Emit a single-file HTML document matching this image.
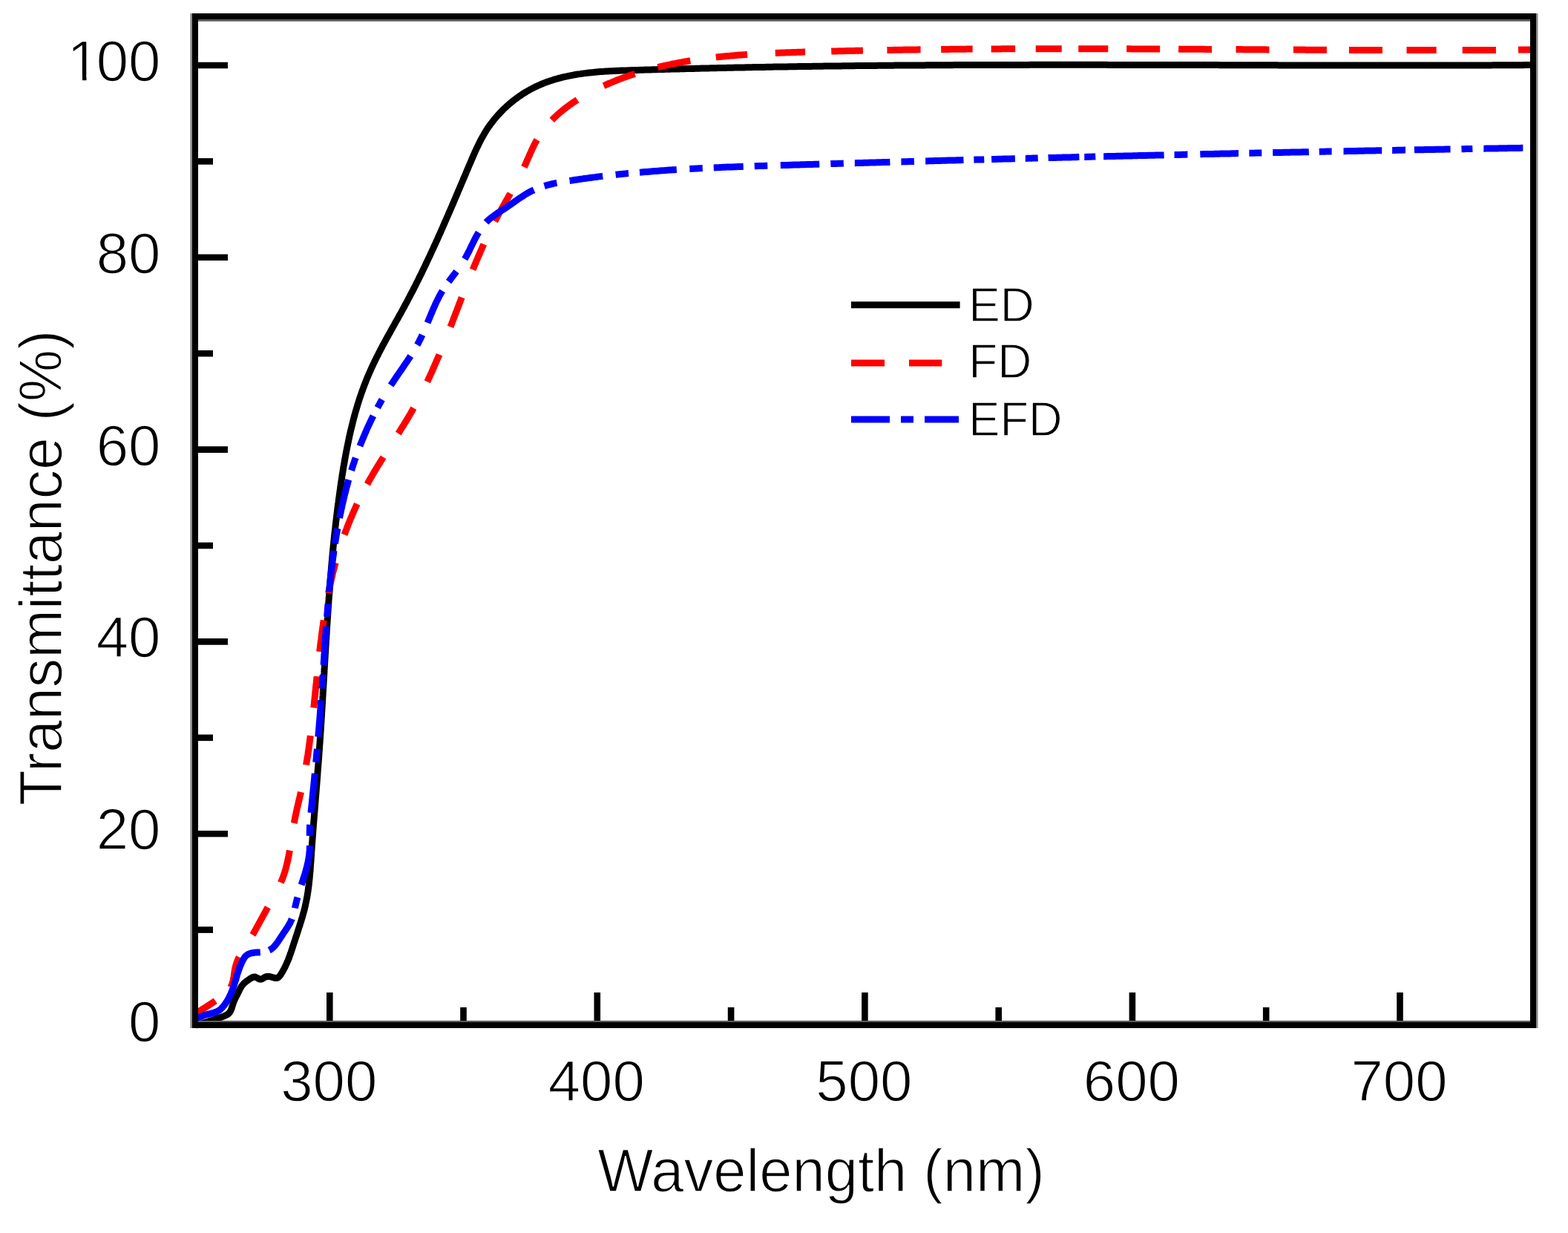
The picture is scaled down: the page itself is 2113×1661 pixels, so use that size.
<!DOCTYPE html>
<html><head><meta charset="utf-8"><title>Transmittance</title>
<style>html,body{margin:0;padding:0;background:#fff;width:2113px;height:1661px;overflow:hidden}svg{display:block}</style>
</head><body>
<svg width="2113" height="1661" viewBox="0 0 2113 1661">
<rect width="2113" height="1661" fill="#fff"/>
<g fill="none" stroke-width="9" stroke-linejoin="round">
<path d="M264.0 1381.0 L266.5 1380.4 L268.9 1379.8 L271.4 1379.1 L273.8 1378.4 L276.1 1377.6 L278.5 1376.9 L280.8 1376.1 L283.1 1375.3 L285.5 1374.5 L287.8 1373.7 L290.2 1372.9 L292.6 1372.0 L295.0 1371.2 L297.4 1370.4 L299.9 1369.6 L302.3 1368.7 L304.6 1367.7 L306.7 1366.5 L308.5 1365.0 L310.0 1363.1 L311.1 1361.0 L312.1 1358.6 L312.8 1356.1 L313.6 1353.6 L314.4 1351.1 L315.3 1348.7 L316.3 1346.4 L317.4 1344.2 L318.5 1342.0 L319.7 1339.8 L320.8 1337.6 L321.9 1335.3 L323.0 1333.1 L324.1 1330.9 L325.4 1328.7 L326.9 1326.8 L328.6 1324.9 L330.5 1323.2 L332.5 1321.6 L334.6 1320.1 L336.8 1318.6 L339.0 1317.2 L341.3 1316.3 L343.5 1316.1 L345.7 1316.9 L347.8 1318.1 L349.9 1319.1 L352.0 1319.2 L354.0 1318.3 L356.1 1316.9 L358.4 1315.8 L360.7 1315.4 L363.3 1315.6 L366.0 1316.2 L368.7 1317.0 L371.3 1317.6 L373.6 1317.4 L375.5 1316.3 L377.1 1314.5 L378.6 1312.5 L379.9 1310.3 L381.2 1308.1 L382.4 1305.9 L383.6 1303.7 L384.7 1301.4 L385.7 1299.2 L386.7 1296.9 L387.7 1294.6 L388.7 1292.3 L389.6 1289.9 L390.4 1287.6 L391.3 1285.2 L392.1 1282.8 L392.9 1280.5 L393.7 1278.1 L394.5 1275.7 L395.2 1273.3 L396.0 1270.9 L396.8 1268.5 L397.6 1266.1 L398.3 1263.7 L399.1 1261.4 L399.9 1259.0 L400.7 1256.6 L401.5 1254.2 L402.2 1251.8 L403.0 1249.4 L403.8 1247.0 L404.5 1244.7 L405.3 1242.3 L406.0 1239.9 L406.7 1237.5 L407.5 1235.1 L408.1 1232.7 L408.8 1230.3 L409.5 1227.9 L410.1 1225.4 L410.7 1223.0 L411.3 1220.6 L411.8 1218.2 L412.3 1215.7 L412.8 1213.3 L413.3 1210.8 L413.8 1208.4 L414.2 1205.9 L414.6 1203.4 L415.0 1200.9 L415.3 1198.5 L415.6 1196.0 L416.0 1193.5 L416.3 1191.0 L416.5 1188.5 L416.8 1186.0 L417.1 1183.5 L417.3 1181.0 L417.5 1178.5 L417.7 1176.0 L418.0 1173.5 L418.2 1171.0 L418.3 1168.5 L418.5 1166.0 L418.7 1163.4 L418.9 1160.9 L419.1 1158.4 L419.2 1155.9 L419.4 1153.4 L419.6 1150.9 L419.7 1148.4 L419.9 1145.8 L420.1 1143.3 L420.3 1140.8 L420.4 1138.3 L420.6 1135.8 L420.8 1133.3 L421.0 1130.8 L421.2 1128.3 L421.4 1125.8 L421.6 1123.3 L421.7 1120.8 L421.9 1118.3 L422.1 1115.8 L422.3 1113.3 L422.5 1110.8 L422.7 1108.3 L422.9 1105.8 L423.1 1103.3 L423.3 1100.8 L423.5 1098.3 L423.7 1095.8 L423.9 1093.3 L424.1 1090.8 L424.3 1088.3 L424.5 1085.8 L424.7 1083.3 L424.9 1080.8 L425.1 1078.3 L425.3 1075.8 L425.5 1073.4 L425.7 1070.9 L425.9 1068.4 L426.1 1065.9 L426.3 1063.4 L426.5 1060.9 L426.7 1058.4 L426.9 1055.9 L427.1 1053.4 L427.3 1050.9 L427.5 1048.5 L427.7 1046.0 L427.9 1043.5 L428.0 1041.0 L428.2 1038.5 L428.4 1036.0 L428.6 1033.5 L428.8 1031.0 L429.0 1028.5 L429.2 1026.1 L429.4 1023.6 L429.6 1021.1 L429.7 1018.6 L429.9 1016.1 L430.1 1013.6 L430.3 1011.1 L430.5 1008.6 L430.6 1006.1 L430.8 1003.6 L431.0 1001.1 L431.2 998.7 L431.3 996.2 L431.5 993.7 L431.7 991.2 L431.8 988.7 L432.0 986.2 L432.2 983.7 L432.3 981.2 L432.5 978.7 L432.6 976.2 L432.8 973.7 L433.0 971.2 L433.1 968.7 L433.3 966.2 L433.4 963.7 L433.6 961.2 L433.7 958.8 L433.9 956.3 L434.0 953.8 L434.2 951.3 L434.3 948.8 L434.5 946.3 L434.6 943.8 L434.8 941.3 L434.9 938.8 L435.1 936.3 L435.2 933.8 L435.4 931.3 L435.5 928.8 L435.7 926.3 L435.8 923.8 L436.0 921.3 L436.1 918.8 L436.3 916.3 L436.4 913.8 L436.6 911.3 L436.7 908.8 L436.9 906.3 L437.0 903.8 L437.1 901.3 L437.3 898.8 L437.4 896.3 L437.6 893.8 L437.7 891.3 L437.9 888.8 L438.0 886.3 L438.2 883.8 L438.3 881.3 L438.5 878.8 L438.6 876.3 L438.8 873.8 L438.9 871.3 L439.1 868.8 L439.2 866.3 L439.4 863.8 L439.5 861.3 L439.7 858.8 L439.9 856.3 L440.0 853.8 L440.2 851.3 L440.3 848.8 L440.5 846.3 L440.6 843.8 L440.8 841.3 L441.0 838.8 L441.1 836.3 L441.3 833.8 L441.5 831.3 L441.6 828.9 L441.8 826.4 L442.0 823.9 L442.1 821.4 L442.3 818.9 L442.5 816.4 L442.7 813.9 L442.8 811.4 L443.0 808.9 L443.2 806.4 L443.4 803.9 L443.6 801.4 L443.8 798.9 L444.0 796.4 L444.1 793.9 L444.3 791.4 L444.5 788.9 L444.7 786.4 L444.9 783.9 L445.1 781.4 L445.3 778.9 L445.5 776.4 L445.7 773.9 L446.0 771.4 L446.2 768.9 L446.4 766.4 L446.6 763.9 L446.8 761.4 L447.0 758.9 L447.3 756.4 L447.5 753.9 L447.7 751.4 L447.9 748.9 L448.2 746.4 L448.4 743.9 L448.7 741.4 L448.9 738.9 L449.1 736.4 L449.4 734.0 L449.6 731.5 L449.9 729.0 L450.1 726.5 L450.4 724.0 L450.7 721.5 L450.9 719.0 L451.2 716.5 L451.5 714.0 L451.8 711.5 L452.0 709.0 L452.3 706.5 L452.6 704.0 L452.9 701.5 L453.2 699.1 L453.5 696.6 L453.8 694.1 L454.1 691.6 L454.4 689.1 L454.7 686.6 L455.0 684.1 L455.3 681.6 L455.6 679.1 L456.0 676.6 L456.3 674.2 L456.6 671.7 L457.0 669.2 L457.3 666.7 L457.7 664.2 L458.0 661.7 L458.4 659.2 L458.7 656.7 L459.1 654.3 L459.4 651.8 L459.8 649.3 L460.2 646.8 L460.6 644.3 L460.9 641.8 L461.3 639.3 L461.7 636.9 L462.1 634.4 L462.5 631.9 L462.9 629.4 L463.3 626.9 L463.8 624.5 L464.2 622.0 L464.6 619.5 L465.1 617.0 L465.5 614.6 L466.0 612.1 L466.4 609.6 L466.9 607.2 L467.4 604.7 L467.9 602.2 L468.4 599.8 L468.9 597.3 L469.4 594.9 L469.9 592.4 L470.4 590.0 L470.9 587.5 L471.5 585.1 L472.0 582.6 L472.6 580.2 L473.2 577.7 L473.8 575.3 L474.4 572.9 L475.0 570.5 L475.6 568.0 L476.2 565.6 L476.8 563.2 L477.5 560.8 L478.1 558.4 L478.8 556.0 L479.5 553.6 L480.2 551.2 L480.9 548.8 L481.6 546.4 L482.3 544.0 L483.1 541.7 L483.8 539.3 L484.6 536.9 L485.4 534.6 L486.2 532.2 L487.0 529.8 L487.8 527.5 L488.7 525.2 L489.5 522.8 L490.4 520.5 L491.3 518.2 L492.2 515.8 L493.1 513.5 L494.0 511.2 L494.9 508.9 L495.9 506.6 L496.9 504.3 L497.9 502.1 L498.9 499.8 L499.9 497.5 L500.9 495.2 L502.0 493.0 L503.0 490.7 L504.1 488.5 L505.2 486.2 L506.3 484.0 L507.4 481.8 L508.5 479.5 L509.7 477.3 L510.8 475.1 L511.9 472.9 L513.1 470.6 L514.3 468.4 L515.4 466.2 L516.6 464.0 L517.8 461.8 L519.0 459.6 L520.2 457.4 L521.4 455.2 L522.6 453.0 L523.8 450.8 L525.1 448.6 L526.3 446.4 L527.5 444.2 L528.7 442.0 L530.0 439.8 L531.2 437.6 L532.4 435.4 L533.6 433.2 L534.9 431.0 L536.1 428.9 L537.3 426.7 L538.5 424.5 L539.8 422.3 L541.0 420.1 L542.2 417.9 L543.4 415.7 L544.6 413.5 L545.8 411.2 L547.0 409.0 L548.2 406.8 L549.4 404.6 L550.5 402.4 L551.7 400.2 L552.9 397.9 L554.0 395.7 L555.2 393.5 L556.4 391.3 L557.5 389.0 L558.6 386.8 L559.8 384.6 L560.9 382.3 L562.0 380.1 L563.2 377.8 L564.3 375.6 L565.4 373.3 L566.5 371.1 L567.6 368.9 L568.7 366.6 L569.8 364.3 L570.9 362.1 L572.0 359.8 L573.1 357.6 L574.1 355.3 L575.2 353.0 L576.3 350.8 L577.3 348.5 L578.4 346.3 L579.5 344.0 L580.5 341.7 L581.6 339.4 L582.6 337.2 L583.7 334.9 L584.7 332.6 L585.8 330.3 L586.8 328.1 L587.8 325.8 L588.9 323.5 L589.9 321.2 L590.9 318.9 L591.9 316.7 L593.0 314.4 L594.0 312.1 L595.0 309.8 L596.0 307.5 L597.0 305.2 L598.0 302.9 L599.0 300.6 L600.0 298.3 L601.0 296.1 L602.0 293.8 L603.0 291.5 L604.0 289.2 L605.0 286.9 L606.0 284.6 L607.0 282.3 L608.0 280.0 L609.0 277.7 L610.0 275.4 L611.0 273.1 L611.9 270.8 L612.9 268.5 L613.9 266.2 L614.9 263.9 L615.9 261.6 L616.8 259.3 L617.8 257.0 L618.8 254.7 L619.8 252.4 L620.7 250.1 L621.7 247.8 L622.7 245.5 L623.7 243.2 L624.6 240.9 L625.6 238.6 L626.6 236.3 L627.6 234.0 L628.5 231.7 L629.5 229.4 L630.5 227.1 L631.4 224.8 L632.4 222.5 L633.4 220.2 L634.4 218.0 L635.3 215.7 L636.3 213.4 L637.3 211.1 L638.3 208.8 L639.3 206.5 L640.3 204.2 L641.4 202.0 L642.4 199.7 L643.5 197.5 L644.6 195.2 L645.7 193.0 L646.8 190.8 L647.9 188.6 L649.1 186.4 L650.3 184.2 L651.6 182.0 L652.8 179.8 L654.1 177.7 L655.4 175.6 L656.8 173.4 L658.2 171.3 L659.7 169.3 L661.1 167.2 L662.7 165.2 L664.2 163.2 L665.8 161.2 L667.5 159.2 L669.1 157.2 L670.8 155.3 L672.6 153.4 L674.3 151.5 L676.1 149.7 L677.9 147.8 L679.8 146.0 L681.7 144.3 L683.6 142.5 L685.5 140.8 L687.4 139.2 L689.4 137.5 L691.4 135.9 L693.4 134.3 L695.5 132.8 L697.5 131.3 L699.6 129.8 L701.7 128.4 L703.8 127.0 L705.9 125.6 L708.0 124.3 L710.2 123.0 L712.3 121.8 L714.5 120.6 L716.7 119.4 L718.9 118.3 L721.1 117.2 L723.3 116.2 L725.5 115.1 L727.8 114.2 L730.0 113.2 L732.3 112.3 L734.6 111.4 L736.8 110.5 L739.1 109.7 L741.4 108.9 L743.7 108.2 L746.1 107.4 L748.4 106.7 L750.7 106.1 L753.1 105.4 L755.4 104.8 L757.8 104.2 L760.2 103.6 L762.6 103.1 L765.0 102.6 L767.3 102.1 L769.7 101.6 L772.2 101.2 L774.6 100.7 L777.0 100.3 L779.4 99.9 L781.9 99.6 L784.3 99.2 L786.8 98.9 L789.2 98.6 L791.7 98.3 L794.1 98.0 L796.6 97.7 L799.1 97.5 L801.6 97.2 L804.0 97.0 L806.5 96.8 L809.0 96.6 L811.5 96.4 L814.0 96.3 L816.5 96.1 L819.0 96.0 L821.5 95.8 L824.0 95.7 L826.5 95.6 L829.0 95.4 L831.6 95.3 L834.1 95.2 L836.6 95.1 L839.1 95.0 L841.6 95.0 L844.2 94.9 L846.7 94.8 L849.2 94.7 L851.7 94.6 L854.2 94.5 L856.8 94.5 L859.3 94.4 L861.8 94.3 L864.3 94.2 L866.9 94.2 L869.4 94.1 L871.9 94.0 L874.4 94.0 L876.9 93.9 L879.5 93.8 L882.0 93.7 L884.5 93.7 L887.0 93.6 L889.5 93.5 L892.1 93.5 L894.6 93.4 L897.1 93.3 L899.6 93.3 L902.1 93.2 L904.7 93.1 L907.2 93.1 L909.7 93.0 L912.2 92.9 L914.7 92.9 L917.3 92.8 L919.8 92.7 L922.3 92.7 L924.8 92.6 L927.3 92.5 L929.8 92.5 L932.4 92.4 L934.9 92.4 L937.4 92.3 L939.9 92.2 L942.4 92.2 L944.9 92.1 L947.5 92.1 L950.0 92.0 L952.5 91.9 L955.0 91.9 L957.5 91.8 L960.0 91.8 L962.6 91.7 L965.1 91.7 L967.6 91.6 L970.1 91.5 L972.6 91.5 L975.1 91.4 L977.6 91.4 L980.2 91.3 L982.7 91.3 L985.2 91.2 L987.7 91.2 L990.2 91.1 L992.7 91.1 L995.2 91.0 L997.8 91.0 L1000.3 90.9 L1002.8 90.9 L1005.3 90.8 L1007.8 90.8 L1010.3 90.7 L1012.8 90.7 L1015.3 90.6 L1017.9 90.6 L1020.4 90.5 L1022.9 90.5 L1025.4 90.4 L1027.9 90.4 L1030.4 90.4 L1032.9 90.3 L1035.4 90.3 L1038.0 90.2 L1040.5 90.2 L1043.0 90.1 L1045.5 90.1 L1048.0 90.1 L1050.5 90.0 L1053.0 90.0 L1055.5 89.9 L1058.0 89.9 L1060.5 89.9 L1063.1 89.8 L1065.6 89.8 L1068.1 89.7 L1070.6 89.7 L1073.1 89.7 L1075.6 89.6 L1078.1 89.6 L1080.6 89.5 L1083.1 89.5 L1085.6 89.5 L1088.1 89.4 L1090.7 89.4 L1093.2 89.4 L1095.7 89.3 L1098.2 89.3 L1100.7 89.3 L1103.2 89.2 L1105.7 89.2 L1108.2 89.2 L1110.7 89.1 L1113.2 89.1 L1115.7 89.1 L1118.2 89.0 L1120.7 89.0 L1123.3 89.0 L1125.8 88.9 L1128.3 88.9 L1130.8 88.9 L1133.3 88.9 L1135.8 88.8 L1138.3 88.8 L1140.8 88.8 L1143.3 88.7 L1145.8 88.7 L1148.3 88.7 L1150.8 88.7 L1153.3 88.6 L1155.8 88.6 L1158.3 88.6 L1160.9 88.6 L1163.4 88.5 L1165.9 88.5 L1168.4 88.5 L1170.9 88.5 L1173.4 88.4 L1175.9 88.4 L1178.4 88.4 L1180.9 88.4 L1183.4 88.3 L1185.9 88.3 L1188.4 88.3 L1190.9 88.3 L1193.4 88.2 L1195.9 88.2 L1198.4 88.2 L1200.9 88.2 L1203.4 88.2 L1205.9 88.1 L1208.4 88.1 L1210.9 88.1 L1213.4 88.1 L1215.9 88.1 L1218.5 88.0 L1221.0 88.0 L1223.5 88.0 L1226.0 88.0 L1228.5 88.0 L1231.0 88.0 L1233.5 87.9 L1236.0 87.9 L1238.5 87.9 L1241.0 87.9 L1243.5 87.9 L1246.0 87.9 L1248.5 87.8 L1251.0 87.8 L1253.5 87.8 L1256.0 87.8 L1258.5 87.8 L1261.0 87.8 L1263.5 87.8 L1266.0 87.7 L1268.5 87.7 L1271.0 87.7 L1273.5 87.7 L1276.0 87.7 L1278.5 87.7 L1281.0 87.7 L1283.5 87.7 L1286.0 87.6 L1288.5 87.6 L1291.0 87.6 L1293.5 87.6 L1296.0 87.6 L1298.5 87.6 L1301.0 87.6 L1303.5 87.6 L1306.0 87.6 L1308.5 87.5 L1311.0 87.5 L1313.5 87.5 L1316.0 87.5 L1318.5 87.5 L1321.0 87.5 L1323.5 87.5 L1326.0 87.5 L1328.5 87.5 L1331.0 87.5 L1333.5 87.5 L1336.0 87.5 L1338.5 87.4 L1341.0 87.4 L1343.5 87.4 L1346.0 87.4 L1348.5 87.4 L1351.0 87.4 L1353.5 87.4 L1356.0 87.4 L1358.5 87.4 L1361.0 87.4 L1363.5 87.4 L1366.0 87.4 L1368.5 87.4 L1371.0 87.4 L1373.5 87.4 L1376.0 87.4 L1378.5 87.4 L1381.0 87.4 L1383.5 87.4 L1386.0 87.4 L1388.5 87.3 L1391.0 87.3 L1393.5 87.3 L1396.0 87.3 L1398.5 87.3 L1401.0 87.3 L1403.5 87.3 L1406.0 87.3 L1408.5 87.3 L1411.0 87.3 L1413.5 87.3 L1416.0 87.3 L1418.5 87.3 L1421.0 87.3 L1423.5 87.3 L1426.0 87.3 L1428.5 87.3 L1431.0 87.3 L1433.5 87.3 L1436.0 87.3 L1438.5 87.3 L1441.0 87.3 L1443.5 87.3 L1446.0 87.3 L1448.5 87.3 L1451.0 87.3 L1453.5 87.3 L1456.0 87.3 L1458.5 87.3 L1461.0 87.3 L1463.5 87.3 L1466.0 87.3 L1468.5 87.3 L1471.0 87.3 L1473.5 87.3 L1476.0 87.3 L1478.5 87.3 L1481.0 87.3 L1483.5 87.3 L1486.0 87.3 L1488.5 87.3 L1491.0 87.3 L1493.5 87.4 L1496.0 87.4 L1498.5 87.4 L1501.0 87.4 L1503.5 87.4 L1506.0 87.4 L1508.5 87.4 L1511.0 87.4 L1513.5 87.4 L1516.0 87.4 L1518.5 87.4 L1521.0 87.4 L1523.5 87.4 L1526.0 87.4 L1528.5 87.4 L1531.0 87.4 L1533.5 87.4 L1536.0 87.4 L1538.5 87.4 L1541.0 87.4 L1543.5 87.4 L1546.0 87.4 L1548.5 87.4 L1551.0 87.4 L1553.5 87.4 L1556.0 87.4 L1558.5 87.5 L1561.0 87.5 L1563.5 87.5 L1566.0 87.5 L1568.5 87.5 L1571.0 87.5 L1573.5 87.5 L1576.0 87.5 L1578.5 87.5 L1581.0 87.5 L1583.5 87.5 L1586.0 87.5 L1588.5 87.5 L1591.0 87.5 L1593.5 87.5 L1596.0 87.5 L1598.5 87.5 L1601.0 87.5 L1603.5 87.6 L1606.0 87.6 L1608.5 87.6 L1611.0 87.6 L1613.5 87.6 L1616.0 87.6 L1618.5 87.6 L1621.0 87.6 L1623.5 87.6 L1626.0 87.6 L1628.5 87.6 L1631.0 87.6 L1633.5 87.6 L1636.0 87.6 L1638.5 87.6 L1641.0 87.6 L1643.5 87.7 L1646.0 87.7 L1648.5 87.7 L1651.0 87.7 L1653.5 87.7 L1656.0 87.7 L1658.5 87.7 L1661.0 87.7 L1663.5 87.7 L1666.0 87.7 L1668.5 87.7 L1671.0 87.7 L1673.5 87.7 L1676.0 87.7 L1678.5 87.7 L1681.0 87.7 L1683.5 87.8 L1686.0 87.8 L1688.5 87.8 L1691.0 87.8 L1693.5 87.8 L1696.0 87.8 L1698.5 87.8 L1701.0 87.8 L1703.5 87.8 L1706.0 87.8 L1708.5 87.8 L1711.0 87.8 L1713.5 87.8 L1716.0 87.8 L1718.5 87.8 L1721.0 87.8 L1723.5 87.9 L1726.0 87.9 L1728.5 87.9 L1731.0 87.9 L1733.5 87.9 L1736.0 87.9 L1738.5 87.9 L1741.0 87.9 L1743.5 87.9 L1746.0 87.9 L1748.5 87.9 L1751.0 87.9 L1753.5 87.9 L1756.0 87.9 L1758.6 87.9 L1761.1 87.9 L1763.6 87.9 L1766.1 87.9 L1768.6 87.9 L1771.1 88.0 L1773.6 88.0 L1776.1 88.0 L1778.6 88.0 L1781.1 88.0 L1783.6 88.0 L1786.1 88.0 L1788.6 88.0 L1791.1 88.0 L1793.6 88.0 L1796.1 88.0 L1798.6 88.0 L1801.1 88.0 L1803.6 88.0 L1806.1 88.0 L1808.6 88.0 L1811.1 88.0 L1813.6 88.0 L1816.1 88.0 L1818.6 88.0 L1821.2 88.0 L1823.7 88.0 L1826.2 88.0 L1828.7 88.0 L1831.2 88.0 L1833.7 88.0 L1836.2 88.0 L1838.7 88.0 L1841.2 88.1 L1843.7 88.1 L1846.2 88.1 L1848.7 88.1 L1851.2 88.1 L1853.7 88.1 L1856.2 88.1 L1858.7 88.1 L1861.2 88.1 L1863.8 88.1 L1866.3 88.1 L1868.8 88.1 L1871.3 88.1 L1873.8 88.1 L1876.3 88.1 L1878.8 88.1 L1881.3 88.1 L1883.8 88.1 L1886.3 88.1 L1888.8 88.1 L1891.3 88.1 L1893.8 88.1 L1896.4 88.1 L1898.9 88.1 L1901.4 88.1 L1903.9 88.1 L1906.4 88.1 L1908.9 88.1 L1911.4 88.1 L1913.9 88.1 L1916.4 88.1 L1918.9 88.1 L1921.4 88.1 L1923.9 88.0 L1926.5 88.0 L1929.0 88.0 L1931.5 88.0 L1934.0 88.0 L1936.5 88.0 L1939.0 88.0 L1941.5 88.0 L1944.0 88.0 L1946.5 88.0 L1949.1 88.0 L1951.6 88.0 L1954.1 88.0 L1956.6 88.0 L1959.1 88.0 L1961.6 88.0 L1964.1 88.0 L1966.6 88.0 L1969.1 88.0 L1971.7 88.0 L1974.2 88.0 L1976.7 88.0 L1979.2 87.9 L1981.7 87.9 L1984.2 87.9 L1986.7 87.9 L1989.2 87.9 L1991.8 87.9 L1994.3 87.9 L1996.8 87.9 L1999.3 87.9 L2001.8 87.9 L2004.3 87.9 L2006.8 87.9 L2009.3 87.9 L2011.9 87.8 L2014.4 87.8 L2016.9 87.8 L2019.4 87.8 L2021.9 87.8 L2024.4 87.8 L2027.0 87.8 L2029.5 87.8 L2032.0 87.8 L2034.5 87.7 L2037.0 87.7 L2039.5 87.7 L2042.0 87.7 L2044.6 87.7 L2047.1 87.7 L2049.6 87.7 L2052.1 87.7 L2054.6 87.6 L2057.1 87.6 L2059.7 87.6 L2062.2 87.6" stroke="#000"/>
<path d="M263.0 1366.0 L265.1 1364.6 L267.2 1363.2 L269.3 1361.8 L271.4 1360.5 L273.5 1359.1 L275.6 1357.8 L277.7 1356.5 L279.7 1355.1 L281.8 1353.8 L283.9 1352.4 L286.0 1351.1 L288.1 1349.7 L290.2 1348.3 L292.3 1346.9 L294.4 1345.4 L296.5 1344.0 L298.6 1342.4 L300.6 1340.9 L302.6 1339.3 L304.5 1337.6 L306.2 1335.8 L307.9 1334.0 L309.4 1332.1 L310.7 1330.0 L311.8 1327.9 L312.8 1325.7 L313.5 1323.4 L314.1 1321.0 L314.6 1318.5 L315.0 1316.0 L315.4 1313.5 L315.7 1310.9 L316.1 1308.4 L316.5 1305.9 L317.1 1303.4 L317.7 1301.0 L318.4 1298.6 L319.2 1296.2 L320.1 1293.9 L321.1 1291.6 L322.2 1289.4 L323.4 1287.2 L324.6 1285.0 L325.9 1282.9 L327.3 1280.8 L328.6 1278.7 L330.0 1276.5 L331.4 1274.4 L332.7 1272.3 L334.0 1270.2 L335.3 1268.0 L336.6 1265.9 L337.9 1263.7 L339.2 1261.6 L340.4 1259.4 L341.7 1257.2 L342.9 1255.1 L344.1 1252.9 L345.3 1250.7 L346.5 1248.5 L347.7 1246.3 L348.9 1244.1 L350.1 1241.9 L351.3 1239.8 L352.5 1237.6 L353.7 1235.4 L354.9 1233.2 L356.1 1231.0 L357.3 1228.8 L358.5 1226.6 L359.7 1224.4 L360.9 1222.2 L362.2 1220.0 L363.4 1217.8 L364.6 1215.6 L365.9 1213.4 L367.1 1211.2 L368.3 1209.0 L369.5 1206.8 L370.7 1204.6 L371.9 1202.4 L373.1 1200.2 L374.2 1197.9 L375.3 1195.7 L376.4 1193.4 L377.5 1191.2 L378.5 1188.9 L379.4 1186.6 L380.4 1184.3 L381.3 1182.0 L382.1 1179.6 L382.9 1177.3 L383.7 1174.9 L384.4 1172.6 L385.1 1170.2 L385.7 1167.8 L386.3 1165.3 L386.9 1162.9 L387.5 1160.5 L388.0 1158.0 L388.5 1155.6 L389.0 1153.1 L389.5 1150.6 L389.9 1148.2 L390.4 1145.7 L390.8 1143.2 L391.2 1140.7 L391.6 1138.2 L392.0 1135.7 L392.4 1133.2 L392.8 1130.7 L393.2 1128.2 L393.5 1125.7 L393.9 1123.2 L394.3 1120.7 L394.7 1118.3 L395.1 1115.8 L395.5 1113.3 L395.9 1110.8 L396.4 1108.3 L396.8 1105.9 L397.3 1103.4 L397.8 1101.0 L398.3 1098.5 L398.8 1096.1 L399.4 1093.6 L399.9 1091.2 L400.4 1088.8 L401.0 1086.4 L401.6 1083.9 L402.1 1081.5 L402.7 1079.1 L403.3 1076.7 L403.8 1074.3 L404.4 1071.8 L405.0 1069.4 L405.5 1067.0 L406.0 1064.6 L406.6 1062.2 L407.1 1059.7 L407.6 1057.3 L408.1 1054.9 L408.6 1052.4 L409.1 1050.0 L409.5 1047.6 L410.0 1045.1 L410.5 1042.7 L410.9 1040.2 L411.3 1037.8 L411.8 1035.3 L412.2 1032.9 L412.6 1030.4 L413.0 1027.9 L413.4 1025.5 L413.8 1023.0 L414.2 1020.6 L414.6 1018.1 L415.0 1015.6 L415.3 1013.2 L415.7 1010.7 L416.1 1008.2 L416.4 1005.7 L416.7 1003.3 L417.1 1000.8 L417.4 998.3 L417.7 995.8 L418.1 993.3 L418.4 990.9 L418.7 988.4 L419.0 985.9 L419.3 983.4 L419.6 980.9 L419.9 978.4 L420.2 975.9 L420.5 973.5 L420.8 971.0 L421.1 968.5 L421.4 966.0 L421.6 963.5 L421.9 961.0 L422.2 958.5 L422.5 956.0 L422.7 953.5 L423.0 951.0 L423.3 948.5 L423.5 946.0 L423.8 943.5 L424.0 941.0 L424.3 938.5 L424.6 936.0 L424.8 933.5 L425.1 931.0 L425.3 928.5 L425.6 926.0 L425.8 923.5 L426.1 921.0 L426.4 918.5 L426.6 916.0 L426.9 913.5 L427.1 911.0 L427.4 908.5 L427.7 906.0 L427.9 903.5 L428.2 901.0 L428.4 898.5 L428.7 896.0 L429.0 893.5 L429.3 891.0 L429.5 888.5 L429.8 886.0 L430.1 883.5 L430.4 881.0 L430.7 878.5 L430.9 876.0 L431.2 873.5 L431.5 871.1 L431.8 868.6 L432.1 866.1 L432.4 863.6 L432.8 861.1 L433.1 858.6 L433.4 856.1 L433.7 853.6 L434.0 851.2 L434.4 848.7 L434.7 846.2 L435.1 843.7 L435.4 841.2 L435.8 838.8 L436.1 836.3 L436.5 833.8 L436.9 831.4 L437.3 828.9 L437.7 826.4 L438.1 824.0 L438.5 821.5 L438.9 819.0 L439.3 816.6 L439.7 814.1 L440.2 811.7 L440.6 809.2 L441.1 806.7 L441.5 804.3 L442.0 801.9 L442.5 799.4 L443.0 797.0 L443.5 794.5 L444.0 792.1 L444.5 789.6 L445.0 787.2 L445.5 784.8 L446.1 782.4 L446.6 779.9 L447.2 777.5 L447.8 775.1 L448.3 772.7 L448.9 770.3 L449.5 767.8 L450.2 765.4 L450.8 763.0 L451.4 760.6 L452.1 758.2 L452.7 755.8 L453.4 753.4 L454.1 751.0 L454.8 748.7 L455.5 746.3 L456.2 743.9 L457.0 741.5 L457.7 739.1 L458.5 736.8 L459.2 734.4 L460.0 732.0 L460.8 729.7 L461.6 727.3 L462.4 725.0 L463.3 722.6 L464.1 720.3 L465.0 718.0 L465.8 715.6 L466.7 713.3 L467.6 711.0 L468.5 708.6 L469.4 706.3 L470.3 704.0 L471.3 701.7 L472.2 699.4 L473.2 697.1 L474.2 694.8 L475.1 692.5 L476.1 690.2 L477.1 688.0 L478.2 685.7 L479.2 683.4 L480.2 681.2 L481.3 678.9 L482.4 676.6 L483.4 674.4 L484.5 672.2 L485.6 669.9 L486.7 667.7 L487.9 665.5 L489.0 663.2 L490.2 661.0 L491.3 658.8 L492.5 656.6 L493.7 654.4 L494.9 652.2 L496.1 650.1 L497.3 647.9 L498.5 645.7 L499.8 643.5 L501.0 641.4 L502.3 639.2 L503.5 637.1 L504.8 634.9 L506.1 632.8 L507.4 630.7 L508.7 628.5 L510.0 626.4 L511.3 624.3 L512.6 622.1 L513.9 620.0 L515.3 617.9 L516.6 615.8 L517.9 613.7 L519.3 611.5 L520.6 609.4 L521.9 607.3 L523.3 605.2 L524.6 603.1 L526.0 601.0 L527.3 598.9 L528.7 596.8 L530.0 594.6 L531.4 592.5 L532.7 590.4 L534.1 588.3 L535.4 586.2 L536.7 584.1 L538.1 582.0 L539.4 579.8 L540.7 577.7 L542.0 575.6 L543.4 573.5 L544.7 571.3 L546.0 569.2 L547.3 567.1 L548.6 564.9 L549.9 562.8 L551.1 560.6 L552.4 558.5 L553.7 556.3 L554.9 554.2 L556.1 552.0 L557.4 549.8 L558.6 547.6 L559.8 545.5 L561.0 543.3 L562.2 541.1 L563.4 538.9 L564.5 536.7 L565.7 534.4 L566.8 532.2 L568.0 530.0 L569.1 527.8 L570.2 525.5 L571.3 523.3 L572.4 521.1 L573.5 518.8 L574.6 516.6 L575.7 514.3 L576.8 512.0 L577.8 509.8 L578.9 507.5 L579.9 505.2 L581.0 503.0 L582.0 500.7 L583.0 498.4 L584.0 496.1 L585.0 493.8 L586.0 491.5 L587.0 489.2 L588.0 486.9 L589.0 484.6 L590.0 482.3 L591.0 480.0 L592.0 477.7 L592.9 475.4 L593.9 473.1 L594.8 470.8 L595.8 468.4 L596.7 466.1 L597.7 463.8 L598.6 461.5 L599.6 459.1 L600.5 456.8 L601.4 454.5 L602.4 452.1 L603.3 449.8 L604.2 447.5 L605.1 445.1 L606.0 442.8 L607.0 440.4 L607.9 438.1 L608.8 435.8 L609.7 433.4 L610.6 431.1 L611.5 428.7 L612.4 426.4 L613.3 424.0 L614.2 421.7 L615.1 419.4 L616.0 417.0 L616.9 414.7 L617.8 412.3 L618.7 410.0 L619.6 407.6 L620.5 405.3 L621.4 402.9 L622.3 400.6 L623.3 398.3 L624.2 395.9 L625.1 393.6 L626.0 391.2 L626.9 388.9 L627.8 386.6 L628.7 384.2 L629.7 381.9 L630.6 379.6 L631.5 377.2 L632.4 374.9 L633.4 372.6 L634.3 370.3 L635.2 367.9 L636.2 365.6 L637.1 363.3 L638.1 361.0 L639.0 358.7 L640.0 356.4 L641.0 354.1 L641.9 351.8 L642.9 349.5 L643.9 347.2 L644.9 344.9 L645.9 342.6 L646.9 340.3 L647.9 338.0 L648.9 335.7 L649.9 333.4 L650.9 331.2 L651.9 328.9 L653.0 326.6 L654.0 324.4 L655.1 322.1 L656.1 319.9 L657.2 317.6 L658.3 315.4 L659.3 313.1 L660.4 310.9 L661.5 308.7 L662.6 306.4 L663.8 304.2 L664.9 302.0 L666.0 299.8 L667.2 297.6 L668.3 295.4 L669.5 293.2 L670.6 291.0 L671.8 288.8 L673.0 286.6 L674.2 284.5 L675.4 282.3 L676.6 280.1 L677.9 278.0 L679.1 275.8 L680.3 273.7 L681.5 271.5 L682.8 269.3 L684.0 267.2 L685.2 265.0 L686.5 262.9 L687.7 260.7 L688.9 258.5 L690.2 256.3 L691.4 254.2 L692.6 252.0 L693.8 249.8 L695.0 247.6 L696.2 245.4 L697.4 243.2 L698.5 241.0 L699.7 238.7 L700.8 236.5 L702.0 234.2 L703.1 232.0 L704.2 229.7 L705.3 227.4 L706.4 225.1 L707.4 222.8 L708.5 220.5 L709.5 218.1 L710.5 215.8 L711.5 213.4 L712.6 211.1 L713.6 208.8 L714.6 206.4 L715.7 204.1 L716.7 201.8 L717.8 199.5 L718.9 197.2 L720.0 194.9 L721.2 192.7 L722.4 190.5 L723.6 188.3 L724.9 186.2 L726.2 184.0 L727.5 181.9 L728.9 179.9 L730.3 177.9 L731.8 175.9 L733.3 173.9 L734.8 171.9 L736.4 170.0 L738.0 168.1 L739.6 166.3 L741.3 164.5 L743.0 162.7 L744.7 160.9 L746.4 159.1 L748.2 157.4 L750.0 155.7 L751.9 154.0 L753.7 152.4 L755.6 150.8 L757.5 149.2 L759.5 147.6 L761.4 146.1 L763.4 144.6 L765.4 143.1 L767.4 141.6 L769.5 140.2 L771.5 138.7 L773.6 137.3 L775.7 135.9 L777.9 134.6 L780.0 133.2 L782.1 131.9 L784.3 130.6 L786.5 129.4 L788.7 128.1 L790.9 126.9 L793.1 125.7 L795.3 124.5 L797.6 123.3 L799.8 122.1 L802.1 121.0 L804.4 119.9 L806.6 118.8 L808.9 117.7 L811.2 116.6 L813.5 115.6 L815.8 114.6 L818.1 113.5 L820.4 112.5 L822.7 111.6 L825.1 110.6 L827.4 109.6 L829.7 108.7 L832.0 107.8 L834.4 106.9 L836.7 106.0 L839.0 105.1 L841.4 104.3 L843.7 103.4 L846.1 102.6 L848.4 101.8 L850.8 101.0 L853.1 100.2 L855.5 99.4 L857.9 98.7 L860.2 97.9 L862.6 97.2 L865.0 96.5 L867.4 95.8 L869.7 95.1 L872.1 94.4 L874.5 93.7 L876.9 93.1 L879.3 92.4 L881.7 91.8 L884.1 91.2 L886.5 90.6 L888.9 90.0 L891.3 89.5 L893.7 88.9 L896.2 88.3 L898.6 87.8 L901.0 87.3 L903.4 86.8 L905.9 86.2 L908.3 85.8 L910.7 85.3 L913.1 84.8 L915.6 84.3 L918.0 83.9 L920.5 83.4 L922.9 83.0 L925.4 82.6 L927.8 82.2 L930.3 81.8 L932.7 81.4 L935.2 81.0 L937.6 80.6 L940.1 80.3 L942.5 79.9 L945.0 79.6 L947.5 79.2 L949.9 78.9 L952.4 78.6 L954.9 78.3 L957.4 78.0 L959.8 77.7 L962.3 77.4 L964.8 77.1 L967.3 76.8 L969.7 76.6 L972.2 76.3 L974.7 76.1 L977.2 75.8 L979.7 75.6 L982.2 75.4 L984.7 75.1 L987.2 74.9 L989.6 74.7 L992.1 74.5 L994.6 74.3 L997.1 74.1 L999.6 73.9 L1002.1 73.7 L1004.6 73.6 L1007.1 73.4 L1009.6 73.2 L1012.1 73.1 L1014.6 72.9 L1017.2 72.8 L1019.7 72.6 L1022.2 72.5 L1024.7 72.4 L1027.2 72.2 L1029.7 72.1 L1032.2 72.0 L1034.7 71.9 L1037.2 71.7 L1039.7 71.6 L1042.2 71.5 L1044.8 71.4 L1047.3 71.3 L1049.8 71.2 L1052.3 71.1 L1054.8 71.0 L1057.3 70.9 L1059.8 70.8 L1062.4 70.8 L1064.9 70.7 L1067.4 70.6 L1069.9 70.5 L1072.4 70.4 L1074.9 70.3 L1077.4 70.3 L1080.0 70.2 L1082.5 70.1 L1085.0 70.0 L1087.5 70.0 L1090.0 69.9 L1092.5 69.8 L1095.1 69.8 L1097.6 69.7 L1100.1 69.6 L1102.6 69.5 L1105.1 69.5 L1107.6 69.4 L1110.1 69.3 L1112.6 69.3 L1115.2 69.2 L1117.7 69.1 L1120.2 69.1 L1122.7 69.0 L1125.2 69.0 L1127.7 68.9 L1130.2 68.8 L1132.7 68.8 L1135.3 68.7 L1137.8 68.7 L1140.3 68.6 L1142.8 68.5 L1145.3 68.5 L1147.8 68.4 L1150.3 68.4 L1152.8 68.3 L1155.3 68.3 L1157.9 68.2 L1160.4 68.2 L1162.9 68.1 L1165.4 68.1 L1167.9 68.0 L1170.4 68.0 L1172.9 67.9 L1175.4 67.9 L1177.9 67.8 L1180.4 67.8 L1182.9 67.7 L1185.5 67.7 L1188.0 67.6 L1190.5 67.6 L1193.0 67.5 L1195.5 67.5 L1198.0 67.4 L1200.5 67.4 L1203.0 67.4 L1205.5 67.3 L1208.0 67.3 L1210.5 67.2 L1213.0 67.2 L1215.5 67.2 L1218.1 67.1 L1220.6 67.1 L1223.1 67.0 L1225.6 67.0 L1228.1 67.0 L1230.6 66.9 L1233.1 66.9 L1235.6 66.9 L1238.1 66.8 L1240.6 66.8 L1243.1 66.8 L1245.6 66.7 L1248.1 66.7 L1250.6 66.7 L1253.1 66.6 L1255.6 66.6 L1258.1 66.6 L1260.6 66.6 L1263.2 66.5 L1265.7 66.5 L1268.2 66.5 L1270.7 66.4 L1273.2 66.4 L1275.7 66.4 L1278.2 66.4 L1280.7 66.3 L1283.2 66.3 L1285.7 66.3 L1288.2 66.3 L1290.7 66.2 L1293.2 66.2 L1295.7 66.2 L1298.2 66.2 L1300.7 66.2 L1303.2 66.1 L1305.7 66.1 L1308.2 66.1 L1310.7 66.1 L1313.2 66.1 L1315.7 66.0 L1318.2 66.0 L1320.7 66.0 L1323.2 66.0 L1325.7 66.0 L1328.2 66.0 L1330.7 66.0 L1333.2 65.9 L1335.7 65.9 L1338.2 65.9 L1340.7 65.9 L1343.2 65.9 L1345.7 65.9 L1348.2 65.9 L1350.7 65.8 L1353.2 65.8 L1355.7 65.8 L1358.2 65.8 L1360.7 65.8 L1363.2 65.8 L1365.7 65.8 L1368.2 65.8 L1370.7 65.8 L1373.2 65.8 L1375.7 65.7 L1378.2 65.7 L1380.7 65.7 L1383.2 65.7 L1385.7 65.7 L1388.2 65.7 L1390.7 65.7 L1393.2 65.7 L1395.7 65.7 L1398.2 65.7 L1400.7 65.7 L1403.2 65.7 L1405.7 65.7 L1408.2 65.7 L1410.7 65.7 L1413.2 65.7 L1415.7 65.7 L1418.2 65.7 L1420.7 65.7 L1423.2 65.7 L1425.7 65.7 L1428.2 65.7 L1430.7 65.7 L1433.2 65.7 L1435.7 65.7 L1438.2 65.7 L1440.7 65.7 L1443.2 65.7 L1445.7 65.7 L1448.2 65.7 L1450.7 65.7 L1453.2 65.7 L1455.7 65.7 L1458.2 65.7 L1460.7 65.7 L1463.2 65.7 L1465.7 65.7 L1468.2 65.7 L1470.7 65.7 L1473.2 65.7 L1475.7 65.7 L1478.2 65.7 L1480.7 65.7 L1483.2 65.7 L1485.7 65.7 L1488.2 65.7 L1490.7 65.7 L1493.2 65.8 L1495.7 65.8 L1498.2 65.8 L1500.7 65.8 L1503.2 65.8 L1505.7 65.8 L1508.2 65.8 L1510.7 65.8 L1513.1 65.8 L1515.6 65.8 L1518.1 65.8 L1520.6 65.8 L1523.1 65.8 L1525.6 65.9 L1528.1 65.9 L1530.6 65.9 L1533.1 65.9 L1535.6 65.9 L1538.1 65.9 L1540.6 65.9 L1543.1 65.9 L1545.6 65.9 L1548.1 66.0 L1550.6 66.0 L1553.1 66.0 L1555.6 66.0 L1558.1 66.0 L1560.6 66.0 L1563.1 66.0 L1565.6 66.0 L1568.1 66.0 L1570.6 66.1 L1573.1 66.1 L1575.6 66.1 L1578.1 66.1 L1580.6 66.1 L1583.1 66.1 L1585.6 66.1 L1588.1 66.1 L1590.6 66.2 L1593.1 66.2 L1595.5 66.2 L1598.0 66.2 L1600.5 66.2 L1603.0 66.2 L1605.5 66.2 L1608.0 66.3 L1610.5 66.3 L1613.0 66.3 L1615.5 66.3 L1618.0 66.3 L1620.5 66.3 L1623.0 66.3 L1625.5 66.4 L1628.0 66.4 L1630.5 66.4 L1633.0 66.4 L1635.5 66.4 L1638.0 66.4 L1640.5 66.4 L1643.0 66.5 L1645.5 66.5 L1648.0 66.5 L1650.5 66.5 L1653.0 66.5 L1655.5 66.5 L1658.0 66.6 L1660.5 66.6 L1663.0 66.6 L1665.5 66.6 L1668.0 66.6 L1670.5 66.6 L1673.0 66.6 L1675.5 66.7 L1678.0 66.7 L1680.5 66.7 L1682.9 66.7 L1685.4 66.7 L1687.9 66.7 L1690.4 66.7 L1692.9 66.8 L1695.4 66.8 L1697.9 66.8 L1700.4 66.8 L1702.9 66.8 L1705.4 66.8 L1707.9 66.9 L1710.4 66.9 L1712.9 66.9 L1715.4 66.9 L1717.9 66.9 L1720.4 66.9 L1722.9 66.9 L1725.4 67.0 L1727.9 67.0 L1730.4 67.0 L1732.9 67.0 L1735.4 67.0 L1737.9 67.0 L1740.4 67.0 L1742.9 67.1 L1745.4 67.1 L1747.9 67.1 L1750.4 67.1 L1752.9 67.1 L1755.4 67.1 L1757.9 67.1 L1760.4 67.2 L1762.9 67.2 L1765.4 67.2 L1767.9 67.2 L1770.4 67.2 L1772.9 67.2 L1775.4 67.2 L1777.9 67.2 L1780.4 67.3 L1782.9 67.3 L1785.4 67.3 L1787.9 67.3 L1790.4 67.3 L1792.9 67.3 L1795.4 67.3 L1797.9 67.3 L1800.4 67.3 L1802.9 67.4 L1805.4 67.4 L1807.9 67.4 L1810.4 67.4 L1812.9 67.4 L1815.4 67.4 L1817.9 67.4 L1820.4 67.4 L1822.9 67.4 L1825.4 67.5 L1827.9 67.5 L1830.4 67.5 L1832.9 67.5 L1835.4 67.5 L1837.9 67.5 L1840.4 67.5 L1842.9 67.5 L1845.4 67.5 L1847.9 67.5 L1850.4 67.5 L1852.9 67.5 L1855.4 67.5 L1857.9 67.6 L1860.4 67.6 L1862.9 67.6 L1865.4 67.6 L1867.9 67.6 L1870.5 67.6 L1873.0 67.6 L1875.5 67.6 L1878.0 67.6 L1880.5 67.6 L1883.0 67.6 L1885.5 67.6 L1888.0 67.6 L1890.5 67.6 L1893.0 67.6 L1895.5 67.6 L1898.0 67.6 L1900.5 67.6 L1903.0 67.6 L1905.5 67.6 L1908.0 67.6 L1910.5 67.6 L1913.0 67.6 L1915.5 67.6 L1918.0 67.6 L1920.5 67.6 L1923.0 67.6 L1925.6 67.6 L1928.1 67.6 L1930.6 67.6 L1933.1 67.6 L1935.6 67.6 L1938.1 67.6 L1940.6 67.6 L1943.1 67.6 L1945.6 67.6 L1948.1 67.6 L1950.6 67.6 L1953.1 67.6 L1955.6 67.6 L1958.1 67.6 L1960.6 67.6 L1963.2 67.6 L1965.7 67.6 L1968.2 67.6 L1970.7 67.6 L1973.2 67.6 L1975.7 67.6 L1978.2 67.5 L1980.7 67.5 L1983.2 67.5 L1985.7 67.5 L1988.2 67.5 L1990.8 67.5 L1993.3 67.5 L1995.8 67.5 L1998.3 67.5 L2000.8 67.5 L2003.3 67.4 L2005.8 67.4 L2008.3 67.4 L2010.8 67.4 L2013.3 67.4 L2015.9 67.4 L2018.4 67.4 L2020.9 67.3 L2023.4 67.3 L2025.9 67.3 L2028.4 67.3 L2030.9 67.3 L2033.4 67.3 L2036.0 67.2 L2038.5 67.2 L2041.0 67.2 L2043.5 67.2 L2046.0 67.2 L2048.5 67.1 L2051.0 67.1 L2053.5 67.1 L2056.1 67.1 L2058.6 67.1 L2061.1 67.0 L2063.6 67.0 L2066.1 67.0" stroke="#ff0000" stroke-dasharray="32.5 27.7 42.5 35.1 42.4 37.7 44.9 37.2 43.0 37.3 39.9 37.7 42.7 33.4 42.7 37.0 42.0 39.7 44.9 30.0 42.3 37.6 40.1 39.9 40.1 40.2 42.6 40.2 37.4 34.3 42.8 40.2 40.7 33.3 44.0 40.2 45.1 32.2 44.7 34.8 42.5 37.7 40.3 35.2 42.7 32.6 45.1 27.6 42.5 25.0 32.5 27.6 35.0 22.5 40.0 24.9 45.0 25.0 44.9 32.5 44.9 32.5 45.0 30.0 45.0 32.6 40.1 35.1 45.2 30.1 55.4 964.7"/>
<path d="M263.0 1373.0 L265.3 1372.0 L267.6 1370.9 L269.8 1370.0 L272.1 1369.0 L274.5 1368.1 L276.8 1367.3 L279.2 1366.6 L281.7 1365.9 L284.2 1365.3 L286.7 1364.7 L289.2 1363.9 L291.6 1363.1 L293.7 1362.0 L295.8 1360.7 L297.7 1359.1 L299.4 1357.4 L301.0 1355.6 L302.6 1353.6 L304.0 1351.6 L305.4 1349.5 L306.7 1347.4 L307.9 1345.2 L309.0 1343.0 L310.1 1340.7 L311.2 1338.4 L312.1 1336.1 L313.1 1333.7 L313.9 1331.4 L314.8 1329.0 L315.6 1326.6 L316.3 1324.2 L317.1 1321.8 L317.8 1319.4 L318.5 1317.0 L319.2 1314.5 L319.9 1312.1 L320.7 1309.8 L321.5 1307.4 L322.3 1305.0 L323.1 1302.7 L324.1 1300.4 L325.1 1298.1 L326.1 1295.8 L327.3 1293.6 L328.5 1291.4 L329.9 1289.3 L331.5 1287.5 L333.4 1286.1 L335.5 1285.0 L337.8 1284.2 L340.3 1283.7 L342.9 1283.3 L345.5 1283.1 L348.2 1283.0 L350.8 1282.8 L353.5 1282.6 L356.0 1282.3 L358.4 1281.8 L360.7 1281.1 L362.9 1280.1 L364.9 1278.9 L366.8 1277.5 L368.6 1275.9 L370.3 1274.1 L371.9 1272.1 L373.4 1270.1 L374.9 1268.0 L376.3 1265.8 L377.8 1263.7 L379.2 1261.5 L380.6 1259.3 L382.0 1257.1 L383.5 1255.0 L384.9 1252.9 L386.3 1250.9 L387.6 1248.8 L388.9 1246.7 L390.1 1244.5 L391.3 1242.4 L392.3 1240.2 L393.3 1237.9 L394.1 1235.6 L394.9 1233.3 L395.6 1230.9 L396.2 1228.4 L396.8 1226.0 L397.4 1223.5 L397.9 1221.0 L398.5 1218.6 L399.1 1216.1 L399.7 1213.6 L400.3 1211.2 L401.0 1208.8 L401.6 1206.3 L402.4 1203.9 L403.1 1201.5 L403.8 1199.1 L404.6 1196.8 L405.4 1194.4 L406.1 1192.0 L406.9 1189.6 L407.7 1187.3 L408.4 1184.9 L409.2 1182.5 L409.9 1180.2 L410.7 1177.8 L411.4 1175.4 L412.1 1173.1 L412.7 1170.7 L413.4 1168.3 L414.0 1165.9 L414.5 1163.5 L415.1 1161.1 L415.5 1158.6 L416.0 1156.2 L416.3 1153.7 L416.7 1151.3 L416.9 1148.8 L417.2 1146.3 L417.3 1143.7 L417.4 1141.2 L417.4 1138.7 L417.5 1136.1 L417.5 1133.5 L417.4 1130.9 L417.4 1128.4 L417.4 1125.8 L417.3 1123.2 L417.3 1120.6 L417.4 1118.1 L417.4 1115.5 L417.5 1113.0 L417.7 1110.4 L417.8 1107.9 L418.0 1105.4 L418.2 1102.9 L418.5 1100.4 L418.7 1097.8 L419.0 1095.3 L419.2 1092.8 L419.5 1090.3 L419.7 1087.9 L420.0 1085.4 L420.2 1082.9 L420.5 1080.4 L420.7 1077.9 L421.0 1075.4 L421.2 1072.9 L421.5 1070.4 L421.7 1067.9 L422.0 1065.4 L422.2 1062.9 L422.5 1060.5 L422.7 1058.0 L423.0 1055.5 L423.2 1053.0 L423.5 1050.5 L423.7 1048.1 L423.9 1045.6 L424.2 1043.1 L424.4 1040.6 L424.7 1038.1 L424.9 1035.7 L425.1 1033.2 L425.4 1030.7 L425.6 1028.2 L425.8 1025.7 L426.0 1023.3 L426.3 1020.8 L426.5 1018.3 L426.7 1015.8 L427.0 1013.4 L427.2 1010.9 L427.4 1008.4 L427.6 1005.9 L427.8 1003.5 L428.1 1001.0 L428.3 998.5 L428.5 996.0 L428.7 993.6 L428.9 991.1 L429.1 988.6 L429.4 986.1 L429.6 983.7 L429.8 981.2 L430.0 978.7 L430.2 976.2 L430.4 973.7 L430.6 971.3 L430.8 968.8 L431.0 966.3 L431.2 963.8 L431.4 961.3 L431.6 958.8 L431.8 956.4 L432.0 953.9 L432.2 951.4 L432.4 948.9 L432.5 946.4 L432.7 943.9 L432.9 941.4 L433.1 938.9 L433.3 936.5 L433.5 934.0 L433.6 931.5 L433.8 929.0 L434.0 926.5 L434.2 924.0 L434.3 921.5 L434.5 919.0 L434.7 916.5 L434.8 914.0 L435.0 911.5 L435.2 909.0 L435.3 906.5 L435.5 904.0 L435.7 901.5 L435.8 898.9 L436.0 896.4 L436.2 893.9 L436.3 891.4 L436.5 888.9 L436.7 886.4 L436.8 883.9 L437.0 881.4 L437.2 878.9 L437.3 876.3 L437.5 873.8 L437.7 871.3 L437.9 868.8 L438.0 866.3 L438.2 863.8 L438.4 861.3 L438.5 858.8 L438.7 856.2 L438.9 853.7 L439.1 851.2 L439.3 848.7 L439.4 846.2 L439.6 843.7 L439.8 841.2 L440.0 838.6 L440.2 836.1 L440.4 833.6 L440.6 831.1 L440.8 828.6 L441.0 826.1 L441.2 823.6 L441.4 821.0 L441.6 818.5 L441.8 816.0 L442.0 813.5 L442.3 811.0 L442.5 808.5 L442.7 806.0 L442.9 803.5 L443.2 801.0 L443.4 798.5 L443.7 796.0 L443.9 793.4 L444.2 790.9 L444.4 788.4 L444.7 785.9 L444.9 783.4 L445.2 780.9 L445.5 778.4 L445.7 775.9 L446.0 773.4 L446.3 770.9 L446.6 768.4 L446.9 766.0 L447.2 763.5 L447.5 761.0 L447.8 758.5 L448.1 756.0 L448.5 753.5 L448.8 751.0 L449.1 748.5 L449.5 746.1 L449.8 743.6 L450.2 741.1 L450.5 738.6 L450.9 736.1 L451.3 733.7 L451.7 731.2 L452.0 728.7 L452.4 726.2 L452.8 723.8 L453.2 721.3 L453.7 718.9 L454.1 716.4 L454.5 713.9 L455.0 711.5 L455.4 709.0 L455.8 706.6 L456.3 704.1 L456.8 701.7 L457.2 699.2 L457.7 696.8 L458.2 694.3 L458.7 691.9 L459.2 689.5 L459.7 687.0 L460.3 684.6 L460.8 682.2 L461.3 679.7 L461.9 677.3 L462.5 674.9 L463.0 672.5 L463.6 670.1 L464.2 667.6 L464.8 665.2 L465.4 662.8 L466.0 660.4 L466.6 658.0 L467.3 655.6 L467.9 653.2 L468.6 650.8 L469.2 648.4 L469.9 646.0 L470.6 643.7 L471.3 641.3 L472.0 638.9 L472.7 636.5 L473.4 634.1 L474.2 631.8 L474.9 629.4 L475.7 627.1 L476.5 624.7 L477.3 622.3 L478.0 620.0 L478.9 617.6 L479.7 615.3 L480.5 613.0 L481.3 610.6 L482.2 608.3 L483.1 606.0 L483.9 603.6 L484.8 601.3 L485.7 599.0 L486.6 596.7 L487.6 594.4 L488.5 592.1 L489.5 589.8 L490.4 587.5 L491.4 585.2 L492.4 582.9 L493.4 580.6 L494.4 578.3 L495.4 576.0 L496.5 573.8 L497.5 571.5 L498.6 569.2 L499.7 567.0 L500.7 564.7 L501.8 562.5 L503.0 560.3 L504.1 558.0 L505.2 555.8 L506.4 553.6 L507.5 551.4 L508.7 549.2 L509.9 547.0 L511.1 544.8 L512.3 542.6 L513.6 540.4 L514.8 538.3 L516.1 536.1 L517.3 533.9 L518.6 531.8 L519.9 529.6 L521.2 527.5 L522.6 525.4 L523.9 523.3 L525.2 521.2 L526.6 519.1 L528.0 517.0 L529.4 514.9 L530.8 512.8 L532.2 510.7 L533.6 508.6 L535.0 506.6 L536.4 504.5 L537.8 502.4 L539.3 500.4 L540.7 498.3 L542.1 496.3 L543.5 494.2 L544.9 492.1 L546.3 490.0 L547.7 488.0 L549.1 485.9 L550.5 483.8 L551.9 481.7 L553.2 479.6 L554.6 477.5 L555.9 475.4 L557.2 473.2 L558.5 471.1 L559.8 468.9 L561.0 466.8 L562.3 464.6 L563.5 462.4 L564.6 460.2 L565.8 457.9 L566.9 455.7 L568.0 453.4 L569.1 451.1 L570.1 448.9 L571.1 446.6 L572.2 444.2 L573.2 441.9 L574.1 439.6 L575.1 437.3 L576.1 434.9 L577.0 432.6 L578.0 430.2 L579.0 427.9 L579.9 425.6 L580.9 423.2 L581.9 420.9 L582.9 418.6 L583.8 416.3 L584.9 414.0 L585.9 411.7 L586.9 409.4 L588.0 407.1 L589.1 404.9 L590.2 402.6 L591.3 400.4 L592.5 398.2 L593.7 396.1 L594.9 393.9 L596.2 391.8 L597.5 389.7 L598.9 387.6 L600.3 385.6 L601.7 383.5 L603.1 381.5 L604.6 379.5 L606.1 377.5 L607.6 375.5 L609.1 373.5 L610.6 371.5 L612.1 369.6 L613.6 367.6 L615.1 365.6 L616.6 363.6 L618.1 361.5 L619.5 359.5 L620.9 357.4 L622.3 355.3 L623.7 353.2 L625.0 351.1 L626.3 348.9 L627.6 346.7 L628.8 344.5 L630.0 342.2 L631.2 340.0 L632.3 337.7 L633.4 335.4 L634.5 333.1 L635.6 330.8 L636.8 328.5 L637.9 326.2 L639.0 324.0 L640.1 321.7 L641.3 319.5 L642.5 317.3 L643.7 315.1 L645.0 313.0 L646.2 310.9 L647.6 308.8 L649.0 306.8 L650.4 304.9 L651.9 303.0 L653.5 301.2 L655.1 299.4 L656.8 297.7 L658.6 296.1 L660.4 294.5 L662.3 293.0 L664.3 291.5 L666.2 290.1 L668.3 288.6 L670.3 287.2 L672.4 285.9 L674.5 284.5 L676.6 283.1 L678.8 281.8 L680.9 280.4 L683.0 279.0 L685.2 277.5 L687.3 276.1 L689.4 274.6 L691.5 273.1 L693.6 271.6 L695.7 270.2 L697.8 268.7 L699.9 267.2 L702.1 265.8 L704.2 264.4 L706.3 263.0 L708.5 261.7 L710.7 260.4 L712.8 259.1 L715.1 257.9 L717.3 256.8 L719.5 255.8 L721.8 254.8 L724.1 253.8 L726.4 252.9 L728.7 252.1 L731.1 251.3 L733.5 250.6 L735.8 249.9 L738.2 249.2 L740.6 248.6 L743.1 248.0 L745.5 247.4 L747.9 246.9 L750.4 246.4 L752.8 246.0 L755.3 245.5 L757.7 245.1 L760.2 244.7 L762.7 244.2 L765.1 243.8 L767.6 243.5 L770.1 243.1 L772.6 242.7 L775.1 242.3 L777.5 242.0 L780.0 241.6 L782.5 241.2 L785.0 240.9 L787.4 240.5 L789.9 240.2 L792.4 239.9 L794.9 239.5 L797.4 239.2 L799.8 238.9 L802.3 238.6 L804.8 238.2 L807.3 237.9 L809.8 237.6 L812.3 237.3 L814.7 237.0 L817.2 236.7 L819.7 236.5 L822.2 236.2 L824.7 235.9 L827.2 235.6 L829.7 235.3 L832.1 235.1 L834.6 234.8 L837.1 234.6 L839.6 234.3 L842.1 234.1 L844.6 233.8 L847.1 233.6 L849.6 233.3 L852.0 233.1 L854.5 232.9 L857.0 232.6 L859.5 232.4 L862.0 232.2 L864.5 232.0 L867.0 231.8 L869.5 231.6 L872.0 231.4 L874.5 231.2 L877.0 231.0 L879.5 230.8 L881.9 230.6 L884.4 230.4 L886.9 230.2 L889.4 230.0 L891.9 229.8 L894.4 229.7 L896.9 229.5 L899.4 229.3 L901.9 229.1 L904.4 229.0 L906.9 228.8 L909.4 228.7 L911.9 228.5 L914.4 228.4 L916.9 228.2 L919.4 228.1 L921.9 227.9 L924.4 227.8 L926.9 227.6 L929.4 227.5 L931.9 227.3 L934.4 227.2 L936.9 227.1 L939.4 227.0 L941.9 226.8 L944.4 226.7 L946.9 226.6 L949.4 226.5 L951.9 226.3 L954.4 226.2 L956.9 226.1 L959.4 226.0 L961.9 225.9 L964.4 225.8 L966.9 225.7 L969.4 225.6 L971.9 225.4 L974.4 225.3 L976.9 225.2 L979.4 225.1 L981.9 225.0 L984.4 224.9 L986.9 224.9 L989.4 224.8 L991.9 224.7 L994.4 224.6 L996.9 224.5 L999.4 224.4 L1001.9 224.3 L1004.4 224.2 L1006.9 224.1 L1009.4 224.0 L1011.9 224.0 L1014.4 223.9 L1016.9 223.8 L1019.4 223.7 L1021.9 223.6 L1024.4 223.5 L1026.9 223.5 L1029.4 223.4 L1031.9 223.3 L1034.5 223.2 L1037.0 223.1 L1039.5 223.1 L1042.0 223.0 L1044.5 222.9 L1047.0 222.8 L1049.5 222.8 L1052.0 222.7 L1054.5 222.6 L1057.0 222.5 L1059.5 222.4 L1062.0 222.4 L1064.5 222.3 L1067.0 222.2 L1069.5 222.1 L1072.0 222.1 L1074.5 222.0 L1077.0 221.9 L1079.5 221.8 L1082.0 221.8 L1084.5 221.7 L1087.0 221.6 L1089.5 221.5 L1092.0 221.5 L1094.5 221.4 L1097.0 221.3 L1099.5 221.2 L1102.0 221.2 L1104.5 221.1 L1107.0 221.0 L1109.6 220.9 L1112.1 220.9 L1114.6 220.8 L1117.1 220.7 L1119.6 220.6 L1122.1 220.6 L1124.6 220.5 L1127.1 220.4 L1129.6 220.3 L1132.1 220.3 L1134.6 220.2 L1137.1 220.1 L1139.6 220.0 L1142.1 220.0 L1144.6 219.9 L1147.1 219.8 L1149.6 219.7 L1152.1 219.7 L1154.6 219.6 L1157.1 219.5 L1159.6 219.5 L1162.1 219.4 L1164.6 219.3 L1167.1 219.2 L1169.6 219.2 L1172.1 219.1 L1174.6 219.0 L1177.1 218.9 L1179.6 218.9 L1182.1 218.8 L1184.6 218.7 L1187.1 218.7 L1189.6 218.6 L1192.1 218.5 L1194.6 218.4 L1197.2 218.4 L1199.7 218.3 L1202.2 218.2 L1204.7 218.2 L1207.2 218.1 L1209.7 218.0 L1212.2 217.9 L1214.7 217.9 L1217.2 217.8 L1219.7 217.7 L1222.2 217.7 L1224.7 217.6 L1227.2 217.5 L1229.7 217.5 L1232.2 217.4 L1234.7 217.3 L1237.2 217.2 L1239.7 217.2 L1242.2 217.1 L1244.7 217.0 L1247.2 217.0 L1249.7 216.9 L1252.2 216.8 L1254.7 216.8 L1257.2 216.7 L1259.7 216.6 L1262.2 216.6 L1264.7 216.5 L1267.2 216.4 L1269.7 216.3 L1272.2 216.3 L1274.7 216.2 L1277.2 216.1 L1279.7 216.1 L1282.2 216.0 L1284.7 215.9 L1287.2 215.9 L1289.7 215.8 L1292.2 215.7 L1294.7 215.7 L1297.2 215.6 L1299.8 215.5 L1302.3 215.5 L1304.8 215.4 L1307.3 215.3 L1309.8 215.3 L1312.3 215.2 L1314.8 215.1 L1317.3 215.1 L1319.8 215.0 L1322.3 214.9 L1324.8 214.9 L1327.3 214.8 L1329.8 214.7 L1332.3 214.7 L1334.8 214.6 L1337.3 214.5 L1339.8 214.5 L1342.3 214.4 L1344.8 214.3 L1347.3 214.3 L1349.8 214.2 L1352.3 214.1 L1354.8 214.1 L1357.3 214.0 L1359.8 213.9 L1362.3 213.9 L1364.8 213.8 L1367.3 213.8 L1369.8 213.7 L1372.3 213.6 L1374.8 213.6 L1377.3 213.5 L1379.8 213.4 L1382.3 213.4 L1384.8 213.3 L1387.3 213.2 L1389.8 213.2 L1392.3 213.1 L1394.8 213.0 L1397.3 213.0 L1399.8 212.9 L1402.3 212.9 L1404.8 212.8 L1407.3 212.7 L1409.8 212.7 L1412.3 212.6 L1414.8 212.5 L1417.4 212.5 L1419.9 212.4 L1422.4 212.4 L1424.9 212.3 L1427.4 212.2 L1429.9 212.2 L1432.4 212.1 L1434.9 212.0 L1437.4 212.0 L1439.9 211.9 L1442.4 211.9 L1444.9 211.8 L1447.4 211.7 L1449.9 211.7 L1452.4 211.6 L1454.9 211.5 L1457.4 211.5 L1459.9 211.4 L1462.4 211.4 L1464.9 211.3 L1467.4 211.2 L1469.9 211.2 L1472.4 211.1 L1474.9 211.1 L1477.4 211.0 L1479.9 210.9 L1482.4 210.9 L1484.9 210.8 L1487.4 210.8 L1489.9 210.7 L1492.4 210.6 L1494.9 210.6 L1497.4 210.5 L1499.9 210.5 L1502.4 210.4 L1504.9 210.3 L1507.4 210.3 L1509.9 210.2 L1512.4 210.2 L1514.9 210.1 L1517.4 210.0 L1519.9 210.0 L1522.4 209.9 L1524.9 209.9 L1527.4 209.8 L1529.9 209.7 L1532.4 209.7 L1534.9 209.6 L1537.4 209.6 L1539.9 209.5 L1542.5 209.5 L1545.0 209.4 L1547.5 209.3 L1550.0 209.3 L1552.5 209.2 L1555.0 209.2 L1557.5 209.1 L1560.0 209.0 L1562.5 209.0 L1565.0 208.9 L1567.5 208.9 L1570.0 208.8 L1572.5 208.8 L1575.0 208.7 L1577.5 208.6 L1580.0 208.6 L1582.5 208.5 L1585.0 208.5 L1587.5 208.4 L1590.0 208.4 L1592.5 208.3 L1595.0 208.2 L1597.5 208.2 L1600.0 208.1 L1602.5 208.1 L1605.0 208.0 L1607.5 208.0 L1610.0 207.9 L1612.5 207.9 L1615.0 207.8 L1617.5 207.7 L1620.0 207.7 L1622.5 207.6 L1625.0 207.6 L1627.5 207.5 L1630.0 207.5 L1632.5 207.4 L1635.0 207.4 L1637.5 207.3 L1640.0 207.2 L1642.5 207.2 L1645.0 207.1 L1647.5 207.1 L1650.0 207.0 L1652.5 207.0 L1655.0 206.9 L1657.5 206.9 L1660.0 206.8 L1662.6 206.8 L1665.1 206.7 L1667.6 206.6 L1670.1 206.6 L1672.6 206.5 L1675.1 206.5 L1677.6 206.4 L1680.1 206.4 L1682.6 206.3 L1685.1 206.3 L1687.6 206.2 L1690.1 206.2 L1692.6 206.1 L1695.1 206.1 L1697.6 206.0 L1700.1 205.9 L1702.6 205.9 L1705.1 205.8 L1707.6 205.8 L1710.1 205.7 L1712.6 205.7 L1715.1 205.6 L1717.6 205.6 L1720.1 205.5 L1722.6 205.5 L1725.1 205.4 L1727.6 205.4 L1730.1 205.3 L1732.6 205.3 L1735.1 205.2 L1737.6 205.2 L1740.1 205.1 L1742.6 205.1 L1745.1 205.0 L1747.6 205.0 L1750.1 204.9 L1752.6 204.9 L1755.1 204.8 L1757.6 204.8 L1760.1 204.7 L1762.6 204.7 L1765.1 204.6 L1767.6 204.6 L1770.2 204.5 L1772.7 204.5 L1775.2 204.4 L1777.7 204.4 L1780.2 204.3 L1782.7 204.2 L1785.2 204.2 L1787.7 204.1 L1790.2 204.1 L1792.7 204.0 L1795.2 204.0 L1797.7 204.0 L1800.2 203.9 L1802.7 203.9 L1805.2 203.8 L1807.7 203.8 L1810.2 203.7 L1812.7 203.7 L1815.2 203.6 L1817.7 203.6 L1820.2 203.5 L1822.7 203.5 L1825.2 203.4 L1827.7 203.4 L1830.2 203.3 L1832.7 203.3 L1835.2 203.2 L1837.7 203.2 L1840.2 203.1 L1842.7 203.1 L1845.2 203.0 L1847.7 203.0 L1850.2 202.9 L1852.7 202.9 L1855.2 202.8 L1857.7 202.8 L1860.3 202.7 L1862.8 202.7 L1865.3 202.6 L1867.8 202.6 L1870.3 202.5 L1872.8 202.5 L1875.3 202.4 L1877.8 202.4 L1880.3 202.4 L1882.8 202.3 L1885.3 202.3 L1887.8 202.2 L1890.3 202.2 L1892.8 202.1 L1895.3 202.1 L1897.8 202.0 L1900.3 202.0 L1902.8 201.9 L1905.3 201.9 L1907.8 201.8 L1910.3 201.8 L1912.8 201.7 L1915.3 201.7 L1917.8 201.7 L1920.3 201.6 L1922.8 201.6 L1925.3 201.5 L1927.8 201.5 L1930.3 201.4 L1932.8 201.4 L1935.3 201.3 L1937.8 201.3 L1940.4 201.2 L1942.9 201.2 L1945.4 201.2 L1947.9 201.1 L1950.4 201.1 L1952.9 201.0 L1955.4 201.0 L1957.9 200.9 L1960.4 200.9 L1962.9 200.8 L1965.4 200.8 L1967.9 200.8 L1970.4 200.7 L1972.9 200.7 L1975.4 200.6 L1977.9 200.6 L1980.4 200.5 L1982.9 200.5 L1985.4 200.4 L1987.9 200.4 L1990.4 200.4 L1992.9 200.3 L1995.4 200.3 L1997.9 200.2 L2000.4 200.2 L2002.9 200.1 L2005.4 200.1 L2008.0 200.1 L2010.5 200.0 L2013.0 200.0 L2015.5 199.9 L2018.0 199.9 L2020.5 199.8 L2023.0 199.8 L2025.5 199.8 L2028.0 199.7 L2030.5 199.7 L2033.0 199.6 L2035.5 199.6 L2038.0 199.5 L2040.5 199.5 L2043.0 199.5 L2045.5 199.4 L2048.0 199.4 L2050.5 199.3 L2053.0 199.3" stroke="#0000ff" stroke-dasharray="137.9 12.5 52.6 15.0 15.1 17.6 54.5 13.0 15.0 16.1 53.3 15.1 18.1 16.4 49.3 15.9 18.9 12.8 52.3 13.0 17.4 16.0 56.0 9.6 20.8 14.2 53.1 13.0 18.1 16.7 44.6 12.5 12.5 22.5 47.6 17.5 15.1 17.7 47.6 14.9 17.4 20.1 40.5 17.0 78.0 15.0 17.4 17.4 45.1 17.5 17.5 15.0 50.0 17.5 17.5 15.0 40.0 15.0 17.6 17.5 52.5 15.1 17.5 15.0 47.6 15.0 17.5 15.3 51.3 13.9 13.9 9.9 31.8 13.9 16.9 13.9 41.8 6.9 15.0 10.9 81.5 13.9 17.9 16.9 51.7 14.4 16.9 14.9 48.7 13.9 16.9 15.9 51.7 13.9 17.9 11.9 48.7 14.9 14.9 15.0 53.0 1000.0"/>
</g>
<g stroke="#000" stroke-width="8.6">
<line x1="267" y1="1252.6" x2="287.0" y2="1252.6"/>
<line x1="267" y1="1123.2" x2="307.0" y2="1123.2"/>
<line x1="267" y1="993.8" x2="287.0" y2="993.8"/>
<line x1="267" y1="864.4" x2="307.0" y2="864.4"/>
<line x1="267" y1="735.0" x2="287.0" y2="735.0"/>
<line x1="267" y1="605.6" x2="307.0" y2="605.6"/>
<line x1="267" y1="476.2" x2="287.0" y2="476.2"/>
<line x1="267" y1="346.8" x2="307.0" y2="346.8"/>
<line x1="267" y1="217.4" x2="287.0" y2="217.4"/>
<line x1="267" y1="88.0" x2="307.0" y2="88.0"/>
<line x1="444.3" y1="1377" x2="444.3" y2="1337.0"/>
<line x1="624.5" y1="1377" x2="624.5" y2="1357.0"/>
<line x1="804.8" y1="1377" x2="804.8" y2="1337.0"/>
<line x1="985.1" y1="1377" x2="985.1" y2="1357.0"/>
<line x1="1165.4" y1="1377" x2="1165.4" y2="1337.0"/>
<line x1="1345.7" y1="1377" x2="1345.7" y2="1357.0"/>
<line x1="1525.9" y1="1377" x2="1525.9" y2="1337.0"/>
<line x1="1706.2" y1="1377" x2="1706.2" y2="1357.0"/>
<line x1="1886.5" y1="1377" x2="1886.5" y2="1337.0"/>
</g>
<g fill="#000">
<rect x="256.3" y="18" width="3" height="1367" fill="#8a8a8a"/>
<rect x="2070" y="18" width="2.5" height="1367" fill="#8a8a8a"/>
<rect x="259" y="26" width="1811" height="2.8" fill="#5c5c5c"/>
<rect x="259" y="1374.9" width="1811" height="2.1" fill="#5c5c5c"/>
<rect x="259" y="18" width="8" height="1367"/>
<rect x="2062" y="18" width="8" height="1367"/>
<rect x="259" y="18" width="1811" height="8"/>
<rect x="259" y="1377" width="1811" height="8"/>
</g>
<g fill="#000" stroke="#fff" stroke-width="1.4" font-family="'Liberation Sans', Arial, sans-serif" font-size="78">
<text x="216.5" y="1403.0" text-anchor="end">0</text>
<text x="216.5" y="1144.2" text-anchor="end">20</text>
<text x="216.5" y="885.4" text-anchor="end">40</text>
<text x="216.5" y="626.6" text-anchor="end">60</text>
<text x="216.5" y="367.8" text-anchor="end">80</text>
<text x="90.6" y="109.0">1<tspan x="129.74">00</tspan></text>
<text x="443.3" y="1482.5" text-anchor="middle">300</text>
<text x="803.8" y="1482.5" text-anchor="middle">400</text>
<text x="1164.4" y="1482.5" text-anchor="middle">500</text>
<text x="1524.9" y="1482.5" text-anchor="middle">600</text>
<text x="1885.5" y="1482.5" text-anchor="middle">700</text>
<text transform="translate(1106.5 1604.5) scale(1.02 1.045)" text-anchor="middle">Wavelength (nm)</text>
<text transform="translate(82.7 765) rotate(-90) scale(1.01 1.045)" text-anchor="middle">Transmittance (%)</text>
</g>
<g fill="#fff"><rect x="95" y="102.0" width="16" height="9"/><rect x="116.5" y="102.0" width="14.5" height="9"/></g>
<g stroke-width="9">
<line x1="1147" y1="410.8" x2="1293.6" y2="410.8" stroke="#000"/>
<line x1="1147" y1="489" x2="1269.3" y2="489" stroke="#ff0000" stroke-dasharray="45 33"/>
<line x1="1147" y1="565" x2="1292" y2="565" stroke="#0000ff" stroke-dasharray="52 15 17 15"/>
</g>
<g fill="#000" stroke="#fff" stroke-width="1.2" font-family="'Liberation Sans', Arial, sans-serif" font-size="62.5">
<text transform="translate(1305.3 433) scale(1.02 1.045)">ED</text>
<text transform="translate(1305.3 508.6) scale(1.02 1.045)">FD</text>
<text transform="translate(1305.3 586.6) scale(1.01 1.045)">EFD</text>
</g>
</svg>
</body></html>
